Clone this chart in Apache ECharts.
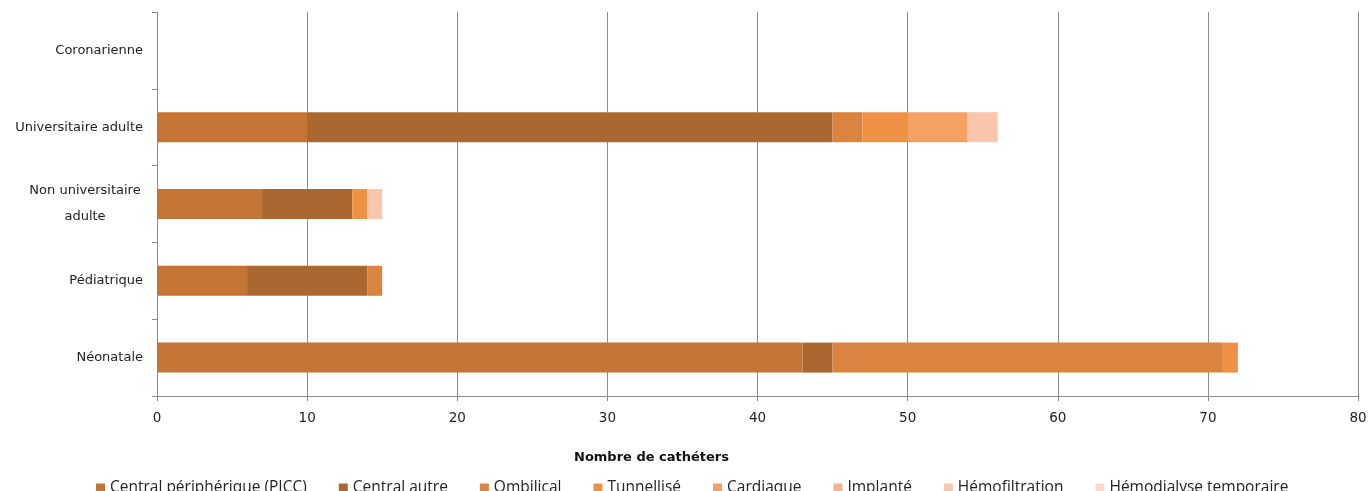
<!DOCTYPE html>
<html>
<head>
<meta charset="utf-8">
<script src="https://cdn.jsdelivr.net/npm/echarts@6/dist/echarts.min.js"></script>
<style>
    html, body { margin: 0; padding: 0; background: #fff; }
    #chart { width: 1372px; height: 491px; }
</style>
</head>
<body>
<div id="chart"></div>
<script>
// categories, bottom to top
const categories = ['Néonatale', 'Pédiatrique', 'Non universitaire adulte', 'Universitaire adulte', 'Coronarienne']

// one array per catheter type, same order as categories
const picc = [43, 6, 7, 10, 0]
const centralAutre = [2, 8, 6, 35, 0]
const ombilical = [26, 1, 0, 2, 0]
const tunnellise = [1, 0, 1, 3, 0]
const cardiaque = [0, 0, 0, 4, 0]
const implante = [0, 0, 0, 0, 0]
const hemofiltration = [0, 0, 1, 2, 0]
const hemodialyse = [0, 0, 0, 0, 0]

const xTicks = [0, 10, 20, 30, 40, 50, 60, 70, 80]

const seriesDefs = [
    { name: 'Central périphérique (PICC)', data: picc, color: '#c47535' },
    { name: 'Central autre', data: centralAutre, color: '#ab6730' },
    { name: 'Ombilical', data: ombilical, color: '#da843f' },
    { name: 'Tunnellisé', data: tunnellise, color: '#ee9144' },
    { name: 'Cardiaque', data: cardiaque, color: '#f6a164' },
    { name: 'Implanté', data: implante, color: '#f6b28c' },
    { name: 'Hémofiltration', data: hemofiltration, color: '#f9c6ab' },
    { name: 'Hémodialyse temporaire', data: hemodialyse, color: '#fcdacb' }
]

const font = 'DejaVu Sans'
const chart = echarts.init(document.getElementById('chart'))

chart.setOption({
    animation: false,
    textStyle: { fontFamily: font },
    grid: { left: 157, right: 14, top: 12, bottom: 95, containLabel: false },
    title: {
        text: 'Nombre de cathéters',
        left: 569,
        top: 446,
        textStyle: { fontFamily: font, fontSize: 13, fontWeight: 'bold', color: '#111' }
    },
    legend: {
        left: 91,
        top: 475,
        itemWidth: 9,
        itemHeight: 9,
        itemGap: 32,
        icon: 'rect',
        textStyle: { fontFamily: 'Open Sans', fontSize: 15.5, color: '#222' },
        data: seriesDefs.map(s => s.name)
    },
    xAxis: {
        type: 'value',
        min: xTicks[0],
        max: xTicks[xTicks.length - 1],
        interval: 10,
        axisLine: { show: true, lineStyle: { color: '#8c8c8c' } },
        axisTick: { show: true, length: 5, lineStyle: { color: '#8c8c8c' } },
        axisLabel: { fontSize: 13.5, color: '#222', margin: 15 },
        splitLine: { show: true, lineStyle: { color: '#8c8c8c', width: 1 } }
    },
    yAxis: {
        type: 'category',
        data: categories,
        axisLine: { show: true, lineStyle: { color: '#8c8c8c' } },
        axisTick: { show: true, length: 5, lineStyle: { color: '#8c8c8c' } },
        axisLabel: {
            fontSize: 13,
            color: '#222',
            margin: 14,
            formatter: function (v) {
                if (v === 'Non universitaire adulte') {
                    return '{c|Non universitaire}\n{c|adulte}'
                }
                return v
            },
            rich: {
                c: { width: 116, align: 'center', fontSize: 13, color: '#222', lineHeight: 26, fontFamily: font }
            }
        }
    },
    series: seriesDefs.map(s => ({
        name: s.name,
        type: 'bar',
        stack: 'total',
        barWidth: 30,
        itemStyle: { color: s.color },
        data: s.data
    }))
})
</script>
</body>
</html>
